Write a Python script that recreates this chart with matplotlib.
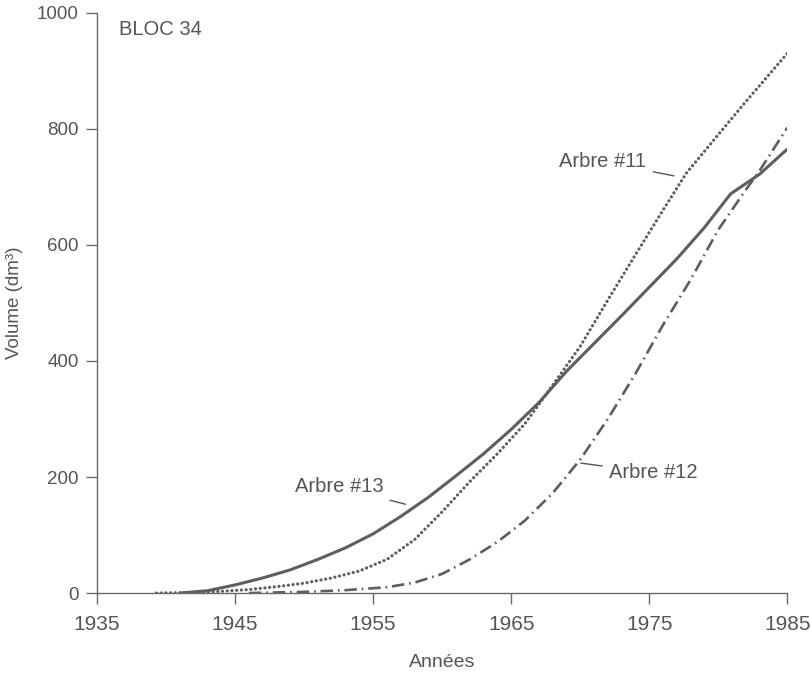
import matplotlib
matplotlib.use('Agg')
import matplotlib.pyplot as plt

plt.rcParams['font.family'] = ['Liberation Sans', 'DejaVu Sans']
plt.rcParams['lines.scale_dashes'] = False

# Arbre #13 (trait plein)
annees_13 = [1941, 1943, 1945, 1947, 1949, 1951, 1953, 1955, 1957, 1959, 1961,
             1963, 1965, 1967, 1969, 1971, 1973, 1975, 1977, 1979, 1980.9, 1983, 1985]
volume_13 = [0, 4, 14, 26, 40, 58, 78, 102, 132, 165, 202,
             240, 282, 328, 382, 430, 478, 527, 576, 630, 688, 722, 765]

# Arbre #11 (pointillé)
annees_11 = [1939.3, 1942, 1944, 1946, 1948, 1950, 1952, 1954, 1956, 1958, 1960,
             1962, 1964, 1966, 1968, 1970, 1972, 1974, 1976, 1977.7, 1980, 1982, 1985]
volume_11 = [0, 1, 3, 6, 11, 17, 26, 38, 58, 92, 140,
             192, 240, 292, 358, 425, 505, 583, 660, 724, 790, 847, 930]

# Arbre #12 (tiret-point)
annees_12 = [1946, 1950, 1953, 1956, 1958, 1960, 1962, 1964, 1966, 1968, 1970,
             1972, 1974, 1976, 1978, 1980, 1982, 1983, 1985]
volume_12 = [0, 2, 5, 10, 18, 33, 58, 88, 125, 172, 230,
             300, 378, 462, 540, 626, 695, 728, 802]

x_ticks = [1935, 1945, 1955, 1965, 1975, 1985]
y_ticks = [0, 200, 400, 600, 800, 1000]

gris = '#5e5e5e'
texte = '#555555'

fig = plt.figure(figsize=(8.12, 6.77), dpi=100)
ax = fig.add_axes([0.1195, 0.124, 0.850, 0.857])

ax.plot(annees_13, volume_13, color=gris, lw=2.2, solid_capstyle='round',
        solid_joinstyle='round')
ax.plot(annees_11, volume_11, color=gris, lw=2.3,
        linestyle=(0, (0.1, 3.3)), dash_capstyle='round')
ax.plot(annees_12, volume_12, color=gris, lw=1.9,
        linestyle=(0, (9, 3.5, 1.2, 3.5)))

ax.set_xlim(1935, 1985)
ax.set_ylim(0, 1000)
ax.set_xticks(x_ticks)
ax.set_yticks(y_ticks)

for s in ['top', 'right']:
    ax.spines[s].set_visible(False)
for s in ['left', 'bottom']:
    ax.spines[s].set_color('#6a6a6a')
    ax.spines[s].set_linewidth(1.0)

ax.tick_params(axis='x', direction='out', length=8, width=1, color='#6a6a6a',
               labelsize=15, labelcolor=texte, pad=8)
ax.tick_params(axis='y', direction='out', length=8, width=1, color='#6a6a6a',
               labelsize=13.5, labelcolor=texte, pad=5)

ax.set_xlabel('Années', fontsize=14, color=texte, labelpad=14)
ax.set_ylabel('Volume (dm³)', fontsize=13.5, color=texte, labelpad=10)

ax.text(1936.6, 972, 'BLOC 34', fontsize=14.5, color=texte, va='center')

# étiquettes des courbes
ax.annotate('Arbre #11', xy=(1976.8, 719), xytext=(1974.8, 743),
            fontsize=14.5, color=texte, ha='right', va='center',
            arrowprops=dict(arrowstyle='-', color=texte, lw=1, shrinkA=3, shrinkB=0))
ax.annotate('Arbre #13', xy=(1957.35, 153), xytext=(1955.75, 183),
            fontsize=14.5, color=texte, ha='right', va='center',
            arrowprops=dict(arrowstyle='-', color=texte, lw=1, shrinkA=3, shrinkB=0))
ax.annotate('Arbre #12', xy=(1970.05, 224), xytext=(1972.1, 207),
            fontsize=14.5, color=texte, ha='left', va='center',
            arrowprops=dict(arrowstyle='-', color=texte, lw=1, shrinkA=3, shrinkB=0))

fig.savefig('out.png', dpi=100)
